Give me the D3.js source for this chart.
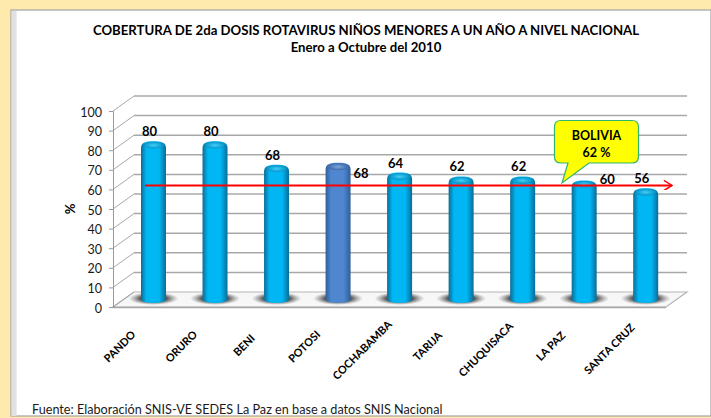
<!DOCTYPE html>
<html>
<head>
<meta charset="utf-8">
<script src="https://cdn.jsdelivr.net/npm/d3@7"></script>
<style>
  html, body { margin: 0; padding: 0; background: #ffeaae; overflow: hidden; }
  svg { display: block; }
  text { font-family: Lato, "Open Sans", sans-serif; fill: #000; }
</style>
</head>
<body>
<svg id="chart" width="711" height="418"></svg>
<script>
var categories = ["PANDO", "ORURO", "BENI", "POTOSI", "COCHABAMBA", "TARIJA", "CHUQUISACA", "LA PAZ", "SANTA CRUZ"];
var values = [80, 80, 68, 68, 64, 62, 62, 60, 56];
var barHeights = [80, 80, 68, 69, 64, 62, 62, 60, 56]; // potosi bar stands a bit above its label
var yTicks = [0, 10, 20, 30, 40, 50, 60, 70, 80, 90, 100];
var bolivia = 62;
var highlighted = "POTOSI";

var width = 711, height = 418;
var depthX = 21, depthY = -15;
var barW = 25;
var capDrop = 3.5; // top of the cylinder sits a little under the value

var svg = d3.select("#chart");
var defs = svg.append("defs");

function barGradient(id, edge, mid) {
  var g = defs.append("linearGradient").attr("id", id);
  g.append("stop").attr("offset", "0%").attr("stop-color", edge);
  g.append("stop").attr("offset", "22%").attr("stop-color", mid);
  g.append("stop").attr("offset", "72%").attr("stop-color", mid);
  g.append("stop").attr("offset", "100%").attr("stop-color", edge);
}
barGradient("barBlue", "#0a6d98", "#00b7f4");
barGradient("barDark", "#2f5f99", "#4f86d0");

function capGradient(id, inner, outer) {
  var g = defs.append("radialGradient").attr("id", id);
  g.append("stop").attr("offset", "0%").attr("stop-color", inner);
  g.append("stop").attr("offset", "100%").attr("stop-color", outer);
}
capGradient("capBlue", "#3fd0fb", "#0692c6");
capGradient("capDark", "#7ea6de", "#3e6ba8");

// floor shadow under the bars
var shadow = defs.append("radialGradient").attr("id", "shadow");
shadow.append("stop").attr("offset", "0%").attr("stop-color", "#444").attr("stop-opacity", 1);
shadow.append("stop").attr("offset", "55%").attr("stop-color", "#555").attr("stop-opacity", 0.95);
shadow.append("stop").attr("offset", "100%").attr("stop-color", "#888").attr("stop-opacity", 0);

// page panel
svg.append("rect").attr("width", width).attr("height", height).attr("fill", "#ffeaae");
svg.append("rect").attr("x", 11).attr("y", 10).attr("width", 700).attr("height", 406)
  .attr("fill", "#fff").attr("stroke", "#a3a3a3").attr("stroke-width", 1.2);
svg.append("rect").attr("x", 11.6).attr("y", 11).attr("width", 5).attr("height", 405).attr("fill", "#e2e2e2");

var y = d3.scaleLinear().domain([0, 100]).range([307, 111]);
var x = d3.scalePoint().domain(categories).range([153.5, 645.7]);
var plotRight = 666;

// floor
var floorPts = [[113, y(0)], [plotRight, y(0)], [plotRight + depthX, y(0) + depthY], [113 + depthX, y(0) + depthY]];
svg.append("polygon").attr("points", floorPts.join(" "))
  .attr("fill", "#f7f7f7").attr("stroke", "#b5b5b5").attr("stroke-width", 1.2);
svg.append("line").attr("x1", 113).attr("x2", plotRight).attr("y1", y(0) + 0.5).attr("y2", y(0) + 0.5)
  .attr("stroke", "#a6a6a6").attr("stroke-width", 1.6);

// walls
var grid = svg.append("g").attr("fill", "none").attr("stroke", "#a8a8a8");
grid.selectAll(".back").data(yTicks.slice(1)).enter().append("line").attr("class", "back")
  .attr("x1", 113 + depthX).attr("x2", plotRight + depthX)
  .attr("y1", function(d) { return y(d) + depthY; }).attr("y2", function(d) { return y(d) + depthY; })
  .attr("stroke-width", 1.5);
grid.selectAll(".side").data(yTicks).enter().append("line").attr("class", "side")
  .attr("x1", 113).attr("x2", 113 + depthX)
  .attr("y1", function(d) { return y(d); }).attr("y2", function(d) { return y(d) + depthY; })
  .attr("stroke-width", 1);

// y axis
var yAxis = d3.axisLeft(y).tickValues(yTicks).tickSize(4).tickPadding(7);
var yG = svg.append("g").attr("transform", "translate(113,0)").call(yAxis);
yG.selectAll("path, line").attr("stroke", "#9a9a9a");
yG.selectAll("text").attr("font-size", 12.5).attr("dy", "0.4em").style("fill", "#1a1a1a");

svg.append("text").attr("transform", "translate(75,209) rotate(-90)")
  .attr("text-anchor", "middle").attr("font-size", 13).attr("font-weight", 700).text("%");

// bars
var base = y(0) + depthY / 2;
function barTop(i) { return y(barHeights[i]) + depthY / 2 + capDrop; }

var bars = svg.selectAll(".bar").data(categories).enter().append("g").attr("class", "bar")
  .attr("transform", function(d) { return "translate(" + x(d) + ",0)"; });

bars.append("ellipse").attr("cx", 0).attr("cy", base - 1).attr("rx", 25).attr("ry", 6.5)
  .attr("fill", "url(#shadow)");

bars.append("path")
  .attr("d", function(d, i) {
    var top = barTop(i), r = barW / 2;
    return "M" + (-r) + "," + (top + 2) + " L" + (-r) + "," + base +
      " A" + r + ",3.5 0 0 0 " + r + "," + base +
      " L" + r + "," + (top + 2) +
      " C" + r + "," + (top - 3.5) + " " + (r - 4) + "," + (top - 5) + " 0," + (top - 5) +
      " C" + (4 - r) + "," + (top - 5) + " " + (-r) + "," + (top - 3.5) + " " + (-r) + "," + (top + 2) + "Z";
  })
  .attr("fill", function(d) { return d == highlighted ? "url(#barDark)" : "url(#barBlue)"; });

bars.append("ellipse").attr("cx", 0)
  .attr("cy", function(d, i) { return barTop(i) - 1; })
  .attr("rx", 10).attr("ry", 3.4)
  .attr("fill", function(d) { return d == highlighted ? "url(#capDark)" : "url(#capBlue)"; });

// data labels, the two that would sit on the red line are moved aside in the original
bars.append("text")
  .attr("x", function(d) { return d == "POTOSI" || d == "LA PAZ" ? 23 : -4; })
  .attr("y", function(d, i) {
    if (d == "POTOSI") return barTop(i) + 10;
    if (d == "LA PAZ") return barTop(i) - 1;
    return barTop(i) - 10;
  })
  .attr("text-anchor", "middle").attr("font-size", 13).attr("font-weight", 700)
  .text(function(d, i) { return values[i]; });

// national line
defs.append("marker").attr("id", "arrow").attr("viewBox", "0 0 10 10")
  .attr("refX", 9).attr("refY", 5).attr("markerWidth", 10).attr("markerHeight", 10)
  .attr("markerUnits", "userSpaceOnUse").attr("orient", "auto")
  .append("path").attr("d", "M1,0 L9,5 L1,10").attr("fill", "none").attr("stroke", "#f00").attr("stroke-width", 1.5);
svg.append("line").attr("x1", 145).attr("x2", 672)
  .attr("y1", y(bolivia)).attr("y2", y(bolivia))
  .attr("stroke", "#f00").attr("stroke-width", 1.8).attr("marker-end", "url(#arrow)");

// callout
svg.append("path")
  .attr("d", "M561,120.5 H632 Q638.5,120.5 638.5,127 V156.5 Q638.5,163 632,163 H589 L562,183 L568,163 H561 Q554.5,163 554.5,156.5 V127 Q554.5,120.5 561,120.5 Z")
  .attr("fill", "#ffff00").attr("stroke", "#2fb56e").attr("stroke-width", 1.2);
svg.append("text").attr("x", 596.5).attr("y", 140).attr("text-anchor", "middle")
  .attr("font-size", 12.5).attr("font-weight", 700).text("BOLIVIA");
svg.append("text").attr("x", 596.5).attr("y", 157).attr("text-anchor", "middle")
  .attr("font-size", 12.5).attr("font-weight", 700).text(bolivia + " %");

// category labels, excel hangs them by a point about 2/3 along the text
svg.selectAll(".cat").data(categories).enter().append("text").attr("class", "cat")
  .attr("transform", function(d) { return "translate(" + (x(d) - 27.5) + ",345.6) rotate(-45)"; })
  .attr("text-anchor", "end").attr("font-size", 10.9).attr("font-weight", 700)
  .text(function(d) { return d; })
  .attr("x", function() { return this.getComputedTextLength() * 0.37; });

// titles
svg.append("text").attr("x", 366).attr("y", 35).attr("text-anchor", "middle")
  .attr("font-size", 13.2).attr("font-weight", 700)
  .text("COBERTURA DE 2da DOSIS ROTAVIRUS NIÑOS MENORES A UN AÑO A NIVEL NACIONAL");
svg.append("text").attr("x", 366).attr("y", 52).attr("text-anchor", "middle")
  .attr("font-size", 13.2).attr("font-weight", 700)
  .text("Enero a Octubre del 2010");

svg.append("text").attr("x", 32).attr("y", 414).attr("font-size", 12.65)
  .style("fill", "#1a1a1a").text("Fuente: Elaboración SNIS-VE SEDES La Paz en base a datos SNIS Nacional");
</script>
</body>
</html>
